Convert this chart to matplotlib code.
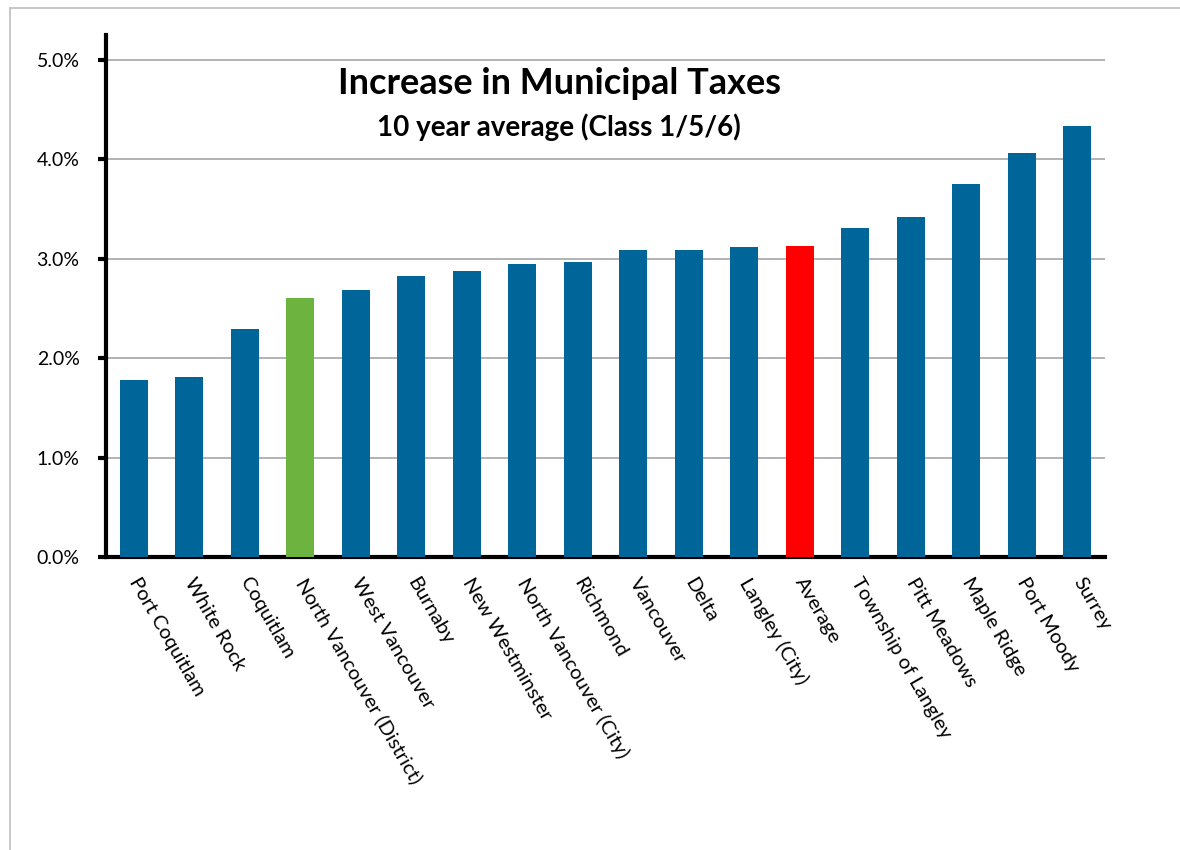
#Municipal tax increase bar chart
import numpy as np
import matplotlib.pyplot as plt
from matplotlib.lines import Line2D

#Data
cities = ["Port Coquitlam", "White Rock", "Coquitlam", "North Vancouver (District)",
          "West Vancouver", "Burnaby", "New Westminster", "North Vancouver (City)",
          "Richmond", "Vancouver", "Delta", "Langley (City)", "Average",
          "Township of Langley", "Pitt Meadows", "Maple Ridge", "Port Moody", "Surrey"]
increase = [1.78, 1.81, 2.29, 2.60, 2.69, 2.83, 2.88, 2.95, 2.97, 3.09, 3.09,
            3.12, 3.13, 3.31, 3.42, 3.75, 4.06, 4.33]
highlight = {"North Vancouver (District)": "#6DB33F", "Average": "#FF0000"}
y_ticks = [0, 1, 2, 3, 4, 5]

plt.rcParams['font.family'] = ['Lato', 'DejaVu Sans']

fig = plt.figure(figsize=(11.8, 8.5), dpi=100)
ax = fig.add_axes([106/1180, 1 - 557/850, 999/1180, 522/850])

colors = [highlight.get(c, "#006699") for c in cities]
x = np.arange(len(cities))
ax.bar(x, increase, width=0.5, color=colors, linewidth=0, zorder=3)

ax.set_xlim(-0.5, len(cities) - 0.5)
ax.set_ylim(0, 5.25)
ax.set_yticks(y_ticks)
ax.set_yticklabels(["%.1f%%" % v for v in y_ticks], fontsize=14)
ax.yaxis.grid(True, color="#A6A6A6", linewidth=1.2, zorder=0)
ax.tick_params(axis="y", length=6, width=3, direction="out", pad=13)

ax.set_xticks(x)
ax.set_xticklabels(cities, fontsize=14.5, rotation=-60, ha="left", va="center",
                   rotation_mode="anchor")
ax.tick_params(axis="x", length=0, pad=16)

for s in ["top", "right"]:
    ax.spines[s].set_visible(False)
for s in ["left", "bottom"]:
    ax.spines[s].set_linewidth(3)
    ax.spines[s].set_color("black")

#Titles
fig.text(559/1180, 1 - 83/850, "Increase in Municipal Taxes", fontsize=26,
         fontweight="bold", ha="center", va="center")
fig.text(559/1180, 1 - 127/850, "10 year average (Class 1/5/6)", fontsize=20,
         fontweight="bold", ha="center", va="center")

#Chart border
fig.add_artist(Line2D([10/1180, 10/1180], [0, 1 - 8/850], transform=fig.transFigure,
                      color="#BFBFBF", linewidth=1.2))
fig.add_artist(Line2D([10/1180, 1], [1 - 8/850, 1 - 8/850], transform=fig.transFigure,
                      color="#BFBFBF", linewidth=1.2))

fig.savefig("out.png", dpi=100)
